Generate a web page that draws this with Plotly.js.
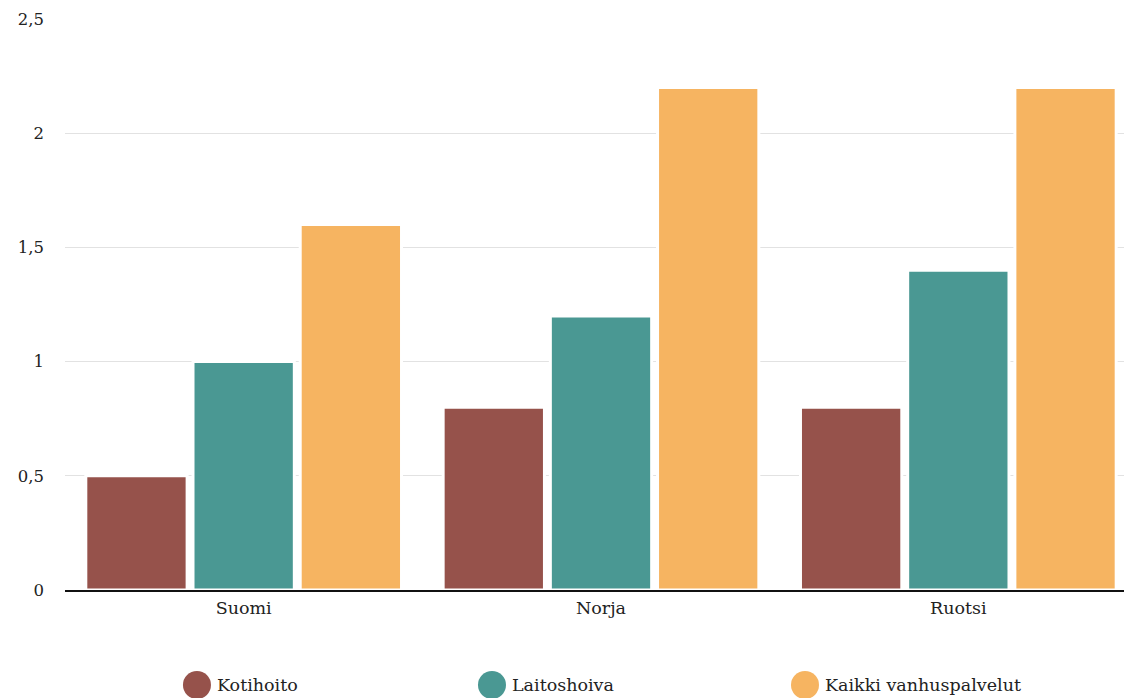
<!DOCTYPE html>
<html>
<head>
<meta charset="utf-8">
<script src="https://cdn.plot.ly/plotly-3.0.1.min.js"></script>
<style>
  html, body { margin: 0; padding: 0; background: #fff; overflow: hidden; }
  #chart { width: 1140px; height: 698px; }
</style>
</head>
<body>
<div id="chart"></div>
<script>
// Countries on the x axis
const countries = ['Suomi', 'Norja', 'Ruotsi'];

// Series values per country
const kotihoito = [0.5, 0.8, 0.8];
const laitoshoiva = [1.0, 1.2, 1.4];
const kaikkiVanhuspalvelut = [1.6, 2.2, 2.2];

const seriesNames = ['Kotihoito', 'Laitoshoiva', 'Kaikki vanhuspalvelut'];
const seriesValues = [kotihoito, laitoshoiva, kaikkiVanhuspalvelut];
const seriesColors = ['#96524b', '#4a9893', '#f6b461'];

// Y axis ticks
const yTickVals = [0, 0.5, 1, 1.5, 2, 2.5];
const yTickText = ['0', '0,5', '1', '1,5', '2', '2,5'];

const fontFamily = 'Georgia, "DejaVu Serif", serif';

const traces = seriesNames.map((name, i) => ({
  type: 'bar',
  name: name,
  x: countries,
  y: seriesValues[i],
  marker: { color: seriesColors[i], line: { color: '#ffffff', width: 3 } },
  showlegend: false,
  hoverinfo: 'x+y+name'
}));

// Custom legend: round swatches with labels below the plot
const legendX = [0.1231, 0.3983, 0.6903];
const legendY = -0.1664;
const shapes = [];
const annotations = [];
seriesNames.forEach((name, i) => {
  shapes.push({
    type: 'circle',
    xref: 'paper', yref: 'paper',
    xsizemode: 'pixel', ysizemode: 'pixel',
    xanchor: legendX[i], yanchor: legendY,
    x0: -14, x1: 14, y0: -14, y1: 14,
    fillcolor: seriesColors[i],
    line: { width: 0 }
  });
  annotations.push({
    xref: 'paper', yref: 'paper',
    x: legendX[i], y: legendY,
    xshift: 18,
    xanchor: 'left', yanchor: 'middle',
    text: name,
    showarrow: false,
    font: { family: fontFamily, size: 17.5, color: '#222' }
  });
});

const layout = {
  width: 1140,
  height: 698,
  margin: { l: 65, r: 3, t: 19, b: 108 },
  paper_bgcolor: '#ffffff',
  plot_bgcolor: '#ffffff',
  font: { family: fontFamily, size: 14, color: '#222' },
  separators: ', ',
  barmode: 'group',
  bargap: 0.1,
  bargroupgap: 0.055,
  showlegend: false,
  xaxis: {
    type: 'category',
    showline: true,
    linecolor: '#111',
    linewidth: 2,
    ticks: '',
    showgrid: false,
    tickfont: { family: fontFamily, size: 17.5, color: '#222' },
    ticklabelstandoff: 1
  },
  yaxis: {
    range: [0, 2.5],
    tickvals: yTickVals,
    ticktext: yTickText,
    showgrid: true,
    gridcolor: '#e2e2e2',
    gridwidth: 1,
    zeroline: false,
    showline: false,
    ticks: '',
    tickfont: { family: fontFamily, size: 16.5, color: '#222' },
    ticklabelstandoff: 20
  },
  shapes: shapes,
  annotations: annotations
};

Plotly.newPlot('chart', traces, layout, { displayModeBar: false, staticPlot: true });
</script>
</body>
</html>
